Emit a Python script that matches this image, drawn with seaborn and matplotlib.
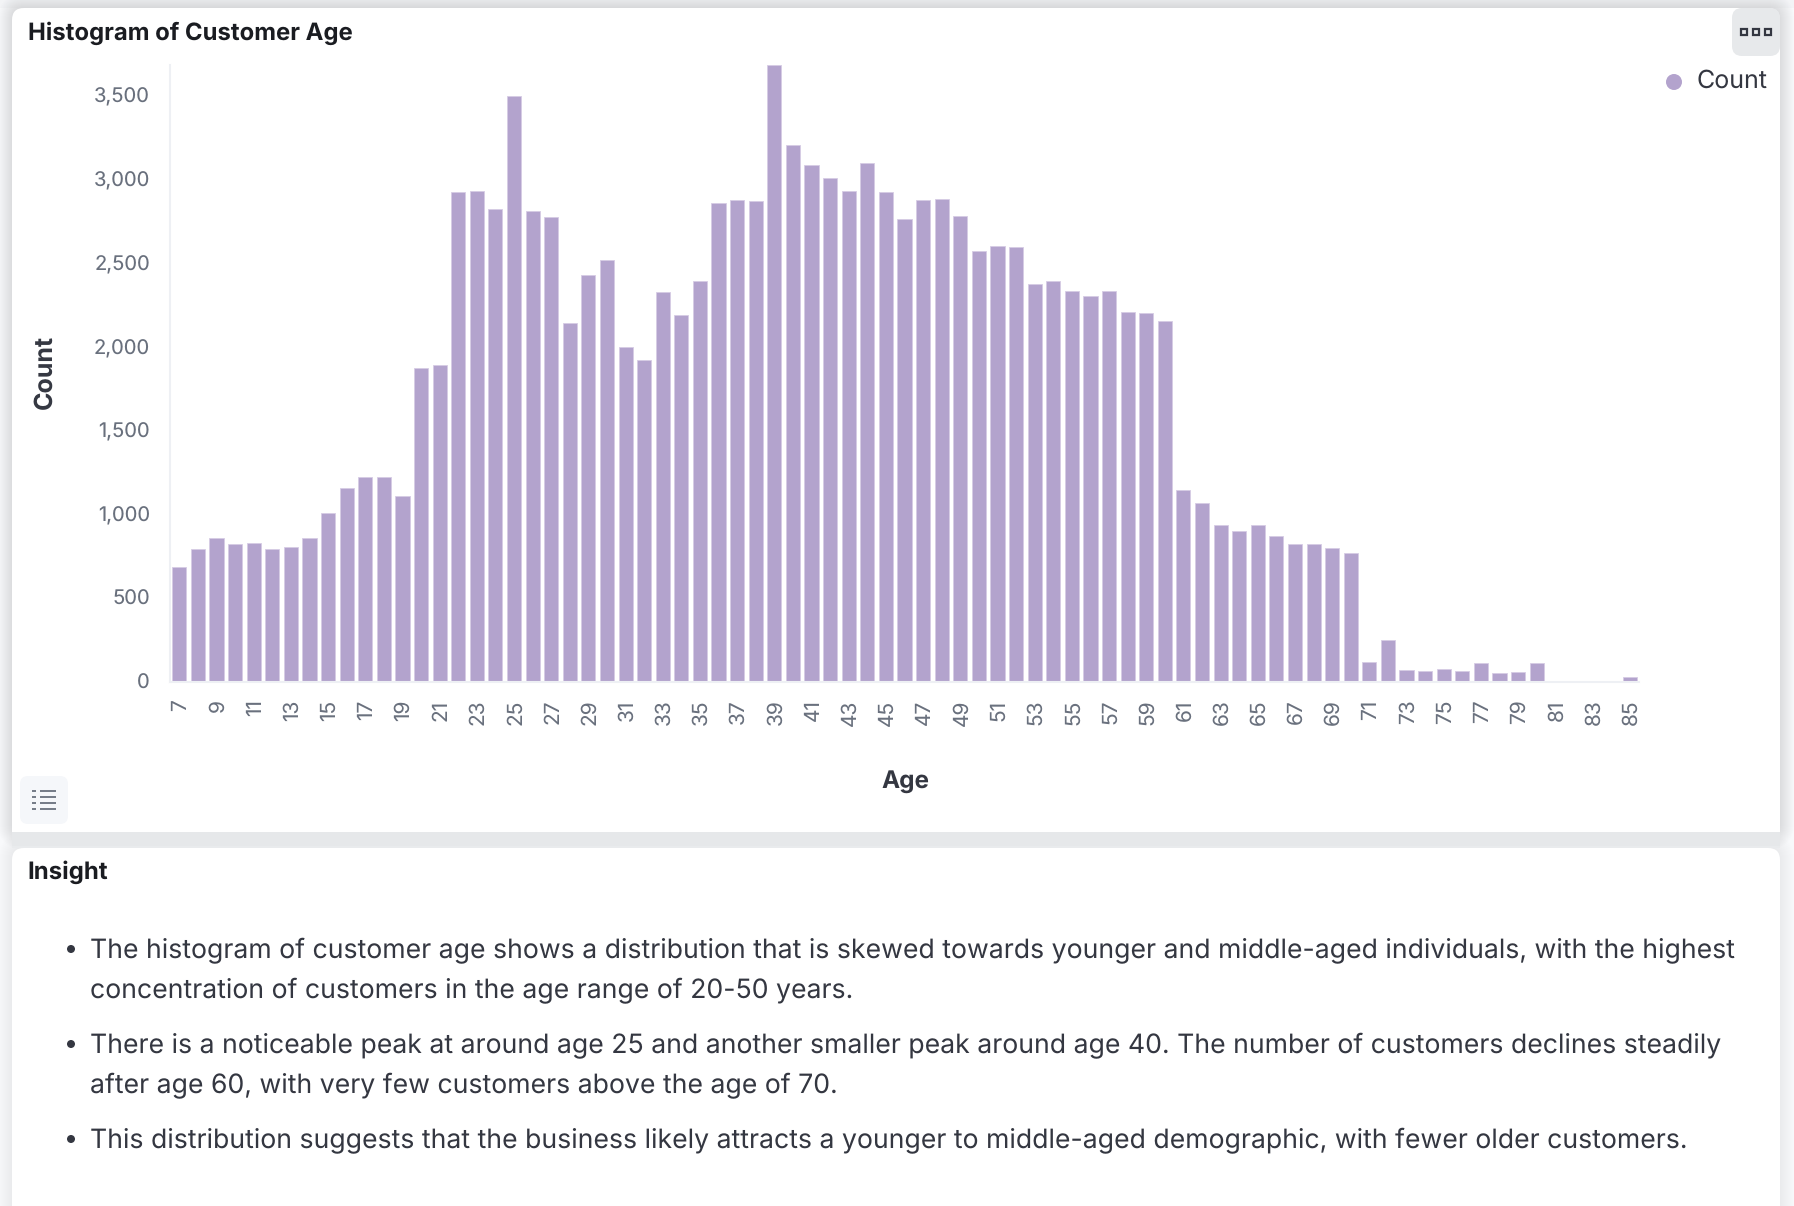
import matplotlib
matplotlib.use("Agg")
import matplotlib.pyplot as plt
from matplotlib.patches import FancyBboxPatch, Rectangle, Circle
from matplotlib.transforms import ScaledTranslation
import seaborn as sns
import pandas as pd

ages = list(range(7, 86))
counts = [683, 793, 855, 820, 827, 793, 806, 855, 1005, 1155, 1223, 1223, 1107, 1873, 1893,
          2925, 2930, 2823, 3500, 2810, 2775, 2140, 2427, 2515, 1996, 1920, 2324, 2187, 2392,
          2857, 2877, 2870, 3684, 3205, 3083, 3008, 2932, 3096, 2925, 2761, 2877, 2884, 2782,
          2570, 2604, 2597, 2372, 2392, 2331, 2303, 2331, 2208, 2200, 2153, 1141, 1066, 936,
          902, 936, 868, 820, 820, 800, 765, 116, 246, 68, 62, 75, 62, 109, 48, 55, 109,
          0, 0, 0, 0, 27]
y_ticks = [0, 500, 1000, 1500, 2000, 2500, 3000, 3500]
title = "Histogram of Customer Age"
insight_title = "Insight"
insight_lines = [
    "The histogram of customer age shows a distribution that is skewed towards younger and middle-aged individuals, with the highest",
    "concentration of customers in the age range of 20-50 years.",
    "There is a noticeable peak at around age 25 and another smaller peak around age 40. The number of customers declines steadily",
    "after age 60, with very few customers above the age of 70.",
    "This distribution suggests that the business likely attracts a younger to middle-aged demographic, with fewer older customers.",
]
line_y = [950.5, 990.5, 1045.5, 1085.5, 1140.5]
bullet_y = [949, 1044, 1139]

W, H = 1794, 1206
BAR = "#b3a3cd"
sns.set_theme(style="white")
plt.rcParams["font.family"] = ["Inter", "DejaVu Sans"]
plt.rcParams["text.hinting"] = "no_hinting"

fig = plt.figure(figsize=(W / 100, H / 100), dpi=100, facecolor="#f8f9fb")

# page chrome, in pixel coordinates
bg = fig.add_axes([0, 0, 1, 1], zorder=0)
bg.set_xlim(0, W)
bg.set_ylim(H, 0)
bg.axis("off")


def card(x0, y0, x1, y1, fc, r=12, alpha=1.0):
    bg.add_patch(FancyBboxPatch((x0 + r, y0 + r), x1 - x0 - 2 * r, y1 - y0 - 2 * r,
                                boxstyle=f"round,pad={r},rounding_size={r}", fc=fc, ec="none",
                                alpha=alpha))


# soft card shadows
for d in range(1, 15):
    card(12 - d, 8 - d, 1780 + d, 832 + d + 3, "#3a4450", r=12 + d, alpha=0.0085)
    card(12 - d, 848 - d, 1780 + d, 1260, "#3a4450", r=12 + d, alpha=0.004)
bg.add_patch(Rectangle((0, 0), W, 8, fc="#6a7078", ec="none", alpha=0.03))

card(12, 8, 1780, 844, "white")
bg.add_patch(Rectangle((12, 832), 1768, 14, fc="#e6e8ea", ec="none"))
bg.add_patch(Rectangle((12, 846), 1768, 2, fc="#e9ebed", ec="none"))
card(12, 848, 1780, 1240, "white")

# menu button
card(1732, 8, 1780, 56, "#e7e9eb", r=10)
for cx in [1744, 1756, 1768]:
    bg.add_patch(Rectangle((cx - 3, 29), 6, 6, fc="none", ec="#343741", lw=1.6))

# list button
card(20, 776, 68, 824, "#f5f7fa", r=8)
for ly in [791, 797, 803, 809]:
    bg.plot([32, 36], [ly, ly], color="#69707d", lw=1.3, solid_capstyle="butt")
    bg.plot([40, 56], [ly, ly], color="#69707d", lw=1.3, solid_capstyle="butt")

# legend
bg.add_patch(Circle((1674, 82), 8, fc=BAR, ec="none"))
bg.text(1697, 81.5, "Count", fontsize=18, color="#343741", va="center", ha="left")

# titles
bg.text(28, 33, title, fontsize=17.2, fontweight="bold", color="#1a1c21", va="center")
bg.text(27.5, 872, insight_title, fontsize=17.3, fontweight="bold", color="#1a1c21", va="center")

# insight text
for y, line in zip(line_y, insight_lines):
    bg.text(90, y, line, fontsize=19.2, color="#343741", va="center", ha="left")
for y in bullet_y:
    bg.add_patch(Circle((71, y), 4, fc="#343741", ec="none"))

bg.text(45, 372, "Count", fontsize=18, fontweight="bold", color="#343741",
        rotation=90, va="center", ha="center")
bg.text(905, 781.5, "Age", fontsize=17.5, fontweight="bold", color="#343741",
        va="center", ha="center")

# chart
L, R, T, B = 170, 1639, 64.8, 681.5
ax = fig.add_axes([L / W, 1 - B / H, (R - L) / W, (B - T) / H], zorder=2, facecolor="none")
df = pd.DataFrame({"Age": ages, "Count": counts})
sns.barplot(data=df, x="Age", y="Count", order=ages, color=BAR, saturation=1, width=0.76,
            edgecolor="#d6cce4", linewidth=0.6, ax=ax)
ax.set_xlim(-0.5, len(ages) - 0.5)
ax.set_ylim(0, 3684)
ax.set_xlabel("")
ax.set_ylabel("")
ax.set_xticks(range(0, len(ages), 2))
ax.set_xticklabels([str(a) for a in ages[::2]], rotation=90, fontsize=15, color="#69707d")
ax.set_yticks(y_ticks)
ax.set_yticklabels([f"{v:,}" for v in y_ticks], fontsize=14.5, color="#69707d")
ax.tick_params(axis="x", length=0, pad=13)
ax.tick_params(axis="y", length=0, pad=14.5)
shift = ScaledTranslation(1.5 / 100, 0, fig.dpi_scale_trans)
for lab in ax.get_xticklabels():
    lab.set_transform(lab.get_transform() + shift)
for s in ["top", "right"]:
    ax.spines[s].set_visible(False)
for s in ["left", "bottom"]:
    ax.spines[s].set_color("#eef0f4")
    ax.spines[s].set_linewidth(1.5)

fig.savefig("out.png", dpi=100, facecolor=fig.get_facecolor())
